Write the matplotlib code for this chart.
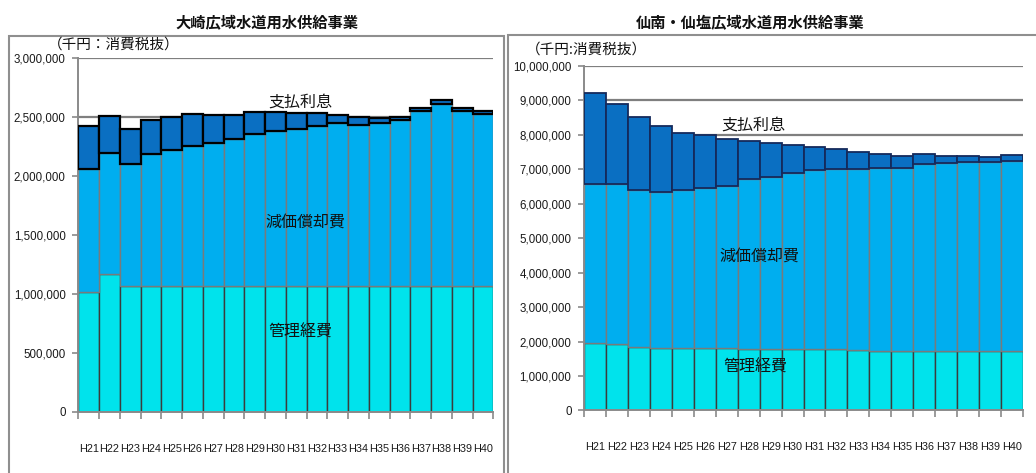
import matplotlib
matplotlib.use("Agg")
import matplotlib.pyplot as plt
import numpy as np
from matplotlib.patches import Rectangle
from matplotlib.ticker import FuncFormatter, MultipleLocator

plt.rcParams["font.family"] = ["Noto Sans CJK JP", "DejaVu Sans"]

NARROW = ["Liberation Sans", "DejaVu Sans"]

# fiscal years (Heisei)
years = ["H21", "H22", "H23", "H24", "H25", "H26", "H27", "H28", "H29", "H30",
         "H31", "H32", "H33", "H34", "H35", "H36", "H37", "H38", "H39", "H40"]

# 大崎広域水道用水供給事業 (千円)
osaki_mgmt = [1014000, 1166000, 1068000, 1066000, 1066000, 1066000, 1066000, 1066000, 1066000, 1066000,
              1066000, 1066000, 1066000, 1066000, 1066000, 1064000, 1064000, 1064000, 1064000, 1064000]
osaki_depr = [1046000, 1027000, 1035000, 1119000, 1156000, 1189000, 1218000, 1246000, 1291000, 1319000,
              1331000, 1359000, 1387000, 1368000, 1382000, 1408000, 1491000, 1551000, 1488000, 1464000]
osaki_intr = [365000, 317000, 297000, 291000, 282000, 270000, 235000, 207000, 190000, 162000,
              136000, 108000, 66000, 65000, 42000, 28000, 26000, 31000, 29000, 25000]

# 仙南・仙塩広域水道用水供給事業 (千円)
sennan_mgmt = [1970000, 1930000, 1830000, 1820000, 1820000, 1820000, 1820000, 1770000, 1770000, 1770000,
               1770000, 1770000, 1760000, 1730000, 1730000, 1730000, 1730000, 1730000, 1720000, 1720000]
sennan_depr = [4600000, 4640000, 4560000, 4520000, 4570000, 4640000, 4680000, 4930000, 4990000, 5120000,
               5200000, 5240000, 5250000, 5300000, 5300000, 5430000, 5450000, 5480000, 5490000, 5530000]
sennan_intr = [2630000, 2330000, 2110000, 1910000, 1650000, 1520000, 1380000, 1130000, 1000000, 800000,
               670000, 580000, 480000, 410000, 360000, 280000, 210000, 170000, 140000, 150000]

C_MGMT = "#00E3EC"
C_DEPR = "#00AEEF"
C_INTR = "#0A6FC2"
GRID = "#7f7f7f"

W, H = 1036, 473


def draw_panel(ax, mgmt, depr, intr, ymax, step, intr_edge, intr_lw, labels):
    x = np.arange(len(years))
    mgmt = np.array(mgmt)
    depr = np.array(depr)
    intr = np.array(intr)

    ax.bar(x, mgmt, width=1.0, color=C_MGMT, edgecolor="#3c3c3c", linewidth=1.0, zorder=2)
    ax.bar(x, depr, width=1.0, bottom=mgmt, color=C_DEPR, edgecolor="#7a7a7a",
           linewidth=1.0, zorder=2)
    ax.bar(x, intr, width=1.0, bottom=mgmt + depr, color=C_INTR, edgecolor=intr_edge,
           linewidth=intr_lw, zorder=3)

    ax.set_xlim(-0.5, len(years) - 0.5)
    ax.set_ylim(0, ymax)
    ax.yaxis.set_major_locator(MultipleLocator(step))
    ax.yaxis.set_major_formatter(FuncFormatter(lambda v, _: f"{int(v):,}"))
    ax.yaxis.grid(True, color=GRID, linewidth=1.6)
    ax.set_axisbelow(True)

    ax.set_xticks(x)
    ax.set_xticklabels(years)
    ax.set_xticks(np.arange(-0.5, len(years)), minor=True)
    ax.tick_params(axis="x", which="major", length=0, pad=23, labelsize=7.8,
                   labelcolor="#1a1a1a")
    ax.tick_params(axis="x", which="minor", length=5, width=1.2, color="#8a8a8a")
    ax.tick_params(axis="y", length=4, width=1.2, color="#8a8a8a", pad=5,
                   labelsize=8.3, labelcolor="#1a1a1a")
    for lab in ax.get_xticklabels() + ax.get_yticklabels():
        lab.set_family(NARROW)

    for side in ("top", "right"):
        ax.spines[side].set_visible(False)
    for side in ("left", "bottom"):
        ax.spines[side].set_color("#8a8a8a")
        ax.spines[side].set_linewidth(1.4)

    for text, xp, yp in labels:
        ax.text(xp, yp, text, ha="center", va="center", fontsize=11.5,
                color="#111111", zorder=5)


fig = plt.figure(figsize=(W / 100, H / 100), dpi=100)

ax1 = fig.add_axes([78.3 / W, 1 - 411.7 / H, 415 / W, 353.4 / H])
draw_panel(ax1, osaki_mgmt, osaki_depr, osaki_intr, 3000000, 500000, "#000000", 1.6,
           [("支払利息", 10.2, 2630000), ("減価償却費", 10.45, 1613000),
            ("管理経費", 10.2, 679000)])

ax2 = fig.add_axes([584 / W, 1 - 410.5 / H, 439 / W, 344.8 / H])
draw_panel(ax2, sennan_mgmt, sennan_depr, sennan_intr, 10000000, 1000000, "#152a5c", 1.3,
           [("支払利息", 7.2, 8280000), ("減価償却費", 7.5, 4480000),
            ("管理経費", 7.3, 1270000)])

# panel frames
fig.add_artist(Rectangle((9 / W, -0.05), 495 / W, 1.05 - 36 / H, transform=fig.transFigure,
                         fill=False, edgecolor="#8f8f8f", linewidth=1.5))
fig.add_artist(Rectangle((508 / W, -0.05), 0.6, 1.05 - 35.5 / H, transform=fig.transFigure,
                         fill=False, edgecolor="#8f8f8f", linewidth=1.5))

fig.text(267 / W, 1 - 22 / H, "大崎広域水道用水供給事業", ha="center", va="center",
         fontsize=11, fontweight="bold", color="#111111")
fig.text(750 / W, 1 - 22 / H, "仙南・仙塩広域水道用水供給事業", ha="center", va="center",
         fontsize=11, fontweight="bold", color="#111111")

fig.text(48 / W, 1 - 45 / H, "（千円：消費税抜）", ha="left", va="center", fontsize=10.5,
         color="#111111")
fig.text(526 / W, 1 - 50 / H, "（千円:消費税抜）", ha="left", va="center", fontsize=10.5,
         color="#111111")

fig.savefig("out.png", dpi=100)
